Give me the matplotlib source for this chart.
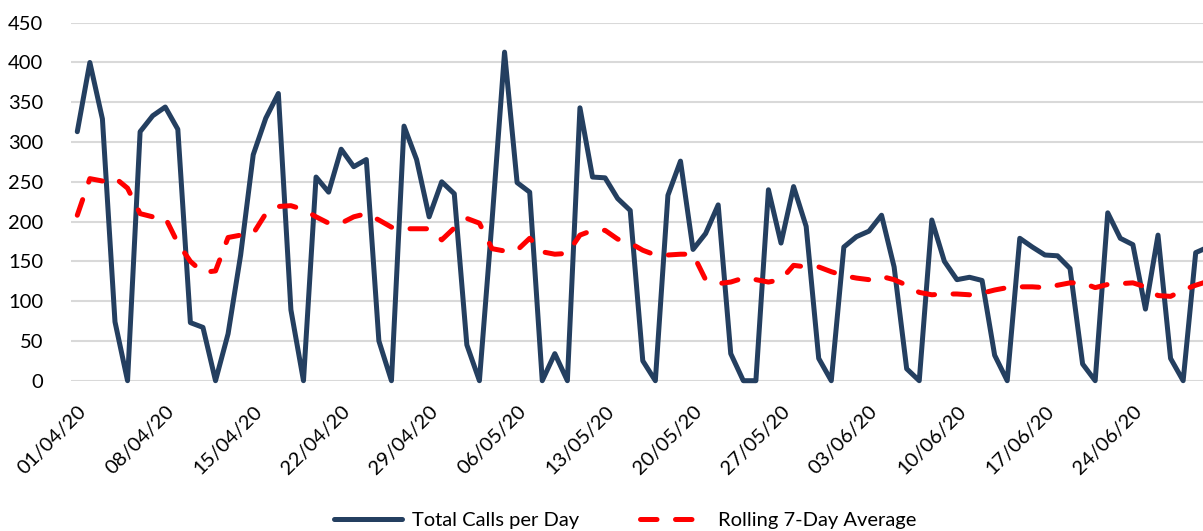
import matplotlib
matplotlib.use("Agg")
import matplotlib.pyplot as plt
import pandas as pd

# ---- data ----
dates = pd.date_range("2020-04-01", "2020-06-30", freq="D")
total_calls = [313, 400, 329, 74, 0, 313, 333, 344, 316, 73,
               67, 0, 59, 158, 284, 330, 361, 89, 0, 256,
               237, 291, 269, 278, 50, 0, 320, 278, 206, 250,
               235, 45, 0, 200, 413, 249, 237, 0, 34, 0,
               343, 256, 255, 229, 214, 25, 0, 233, 276, 165,
               185, 221, 34, 0, 0, 240, 173, 244, 194, 28,
               0, 168, 181, 188, 208, 143, 15, 0, 202, 150,
               127, 130, 126, 32, 0, 179, 168, 158, 157, 141,
               21, 0, 211, 179, 171, 90, 183, 28, 0, 161, 168]
rolling_avg = [208, 254, 251, 255, 242, 210, 206, 205, 173, 150,
               136, 138, 180, 183, 185, 210, 219, 220, 215, 206,
               198, 198, 206, 210, 202, 193, 191, 191, 191, 177,
               192, 204, 198, 166, 163, 164, 179, 162, 159, 160,
               183, 189, 189, 178, 173, 164, 158, 158, 159, 159,
               127, 122, 124, 129, 127, 124, 127, 145, 143, 143,
               137, 132, 129, 127, 131, 127, 120, 111, 108, 109,
               109, 108, 110, 114, 117, 118, 118, 117, 120, 123,
               123, 117, 121, 122, 123, 118, 107, 106, 114, 120, 125]
tick_labels = ["01/04/20", "08/04/20", "15/04/20", "22/04/20", "29/04/20",
               "06/05/20", "13/05/20", "20/05/20", "27/05/20", "03/06/20",
               "10/06/20", "17/06/20", "24/06/20"]
y_ticks = [0, 50, 100, 150, 200, 250, 300, 350, 400, 450]

plt.rcParams['font.family'] = ['Lato', 'DejaVu Sans']

W, H = 1203, 531
fig = plt.figure(figsize=(W / 100, H / 100), dpi=100)
ax = fig.add_axes([71 / W, (H - 380.7) / H, (W - 71) / W, 358 / H])

x = list(range(len(dates)))
navy = '#243F60'
ax.plot(x, total_calls, color=navy, lw=3.6, solid_joinstyle='round',
        solid_capstyle='round', label='Total Calls per Day', zorder=3, clip_on=False)
ax.plot(x, rolling_avg, color='#FF0000', lw=3.6, dash_capstyle='round',
        dash_joinstyle='round',
        linestyle=(0, (3.3, 3.7)), label='Rolling 7-Day Average', zorder=4)

ax.set_xlim(-0.5, 89.58)
ax.set_ylim(0, 450)
ax.set_yticks(y_ticks)
ax.set_yticklabels([str(v) for v in y_ticks])
ax.yaxis.grid(True, color='#D9D9D9', lw=1.5)
ax.set_axisbelow(True)
for s in ax.spines.values():
    s.set_visible(False)
ax.tick_params(axis='y', length=0, pad=20, labelsize=14.5, labelcolor='#000000')

tick_pos = [dates.get_loc(pd.Timestamp(pd.to_datetime(t, format="%d/%m/%y"))) for t in tick_labels]
ax.set_xticks(tick_pos)
ax.set_xticklabels(tick_labels, rotation=45, ha='right', va='top',
                   rotation_mode='anchor', fontsize=14.5)
ax.tick_params(axis='x', length=0, pad=16)

leg = fig.legend(loc='center', bbox_to_anchor=(625 / W, 1 - 520 / H), ncol=2,
                 frameon=False, fontsize=14.5, handlelength=3.4,
                 columnspacing=3.0, handletextpad=0.5)

fig.savefig("out.png", dpi=100)
